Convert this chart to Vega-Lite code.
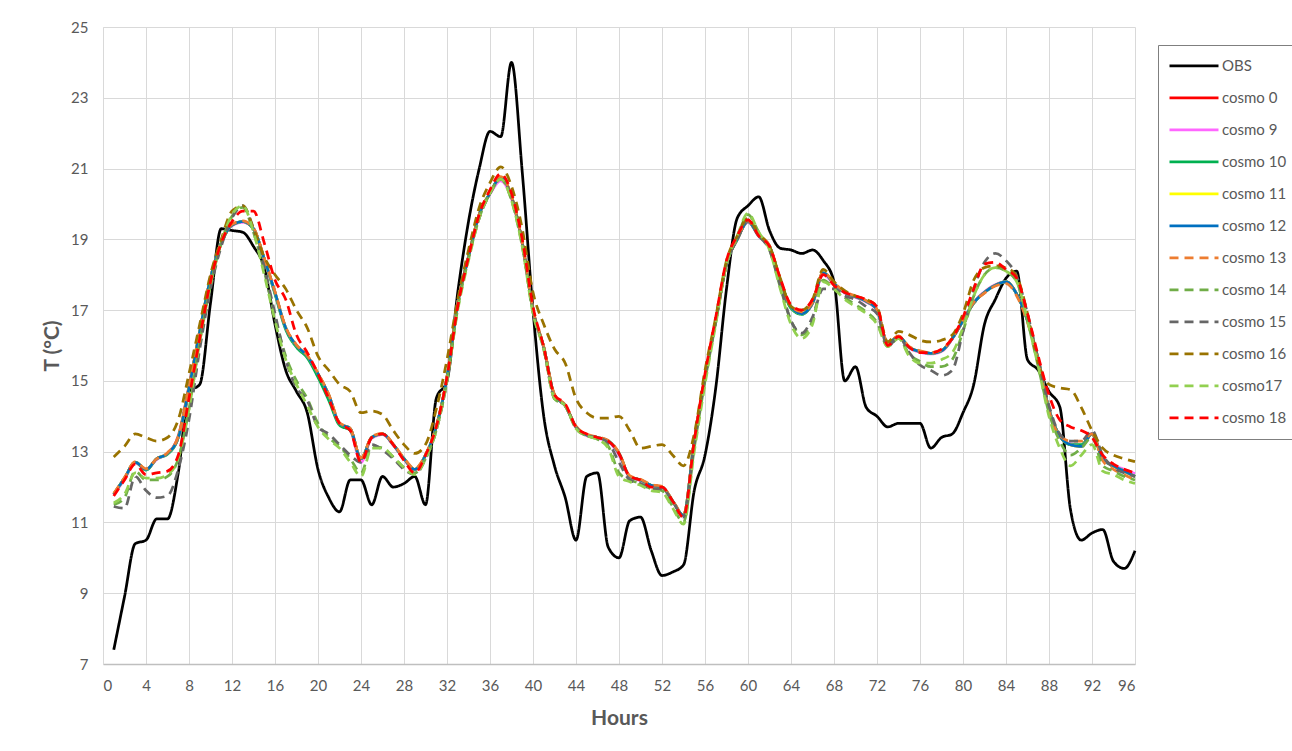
{
"$schema": "https://vega.github.io/schema/vega-lite/v6.json",
"width": 1032, "height": 637,
"autosize": {"type": "none"},
"padding": {"left": 103, "top": 27, "right": 157, "bottom": 87},
"background": "white",
"config": {"view": {"stroke": null}, "font": "Lato"},
"data": {"values": [
{"h":1,"OBS":7.4,"cosmo 0":11.8,"cosmo 9":11.78,"cosmo 10":11.8,"cosmo 11":11.8,"cosmo 12":11.8,"cosmo 13":11.82,"cosmo 14":11.5,"cosmo 15":11.45,"cosmo 16":12.85,"cosmo17":11.55,"cosmo 18":11.75},
{"h":2,"OBS":8.9,"cosmo 0":12.25,"cosmo 9":12.22,"cosmo 10":12.25,"cosmo 11":12.25,"cosmo 12":12.25,"cosmo 13":12.27,"cosmo 14":11.7,"cosmo 15":11.4,"cosmo 16":13.15,"cosmo17":11.8,"cosmo 18":12.2},
{"h":3,"OBS":10.4,"cosmo 0":12.7,"cosmo 9":12.68,"cosmo 10":12.7,"cosmo 11":12.7,"cosmo 12":12.7,"cosmo 13":12.72,"cosmo 14":12.45,"cosmo 15":12.3,"cosmo 16":13.5,"cosmo17":12.4,"cosmo 18":12.65},
{"h":4,"OBS":10.5,"cosmo 0":12.5,"cosmo 9":12.5,"cosmo 10":12.48,"cosmo 11":12.5,"cosmo 12":12.5,"cosmo 13":12.52,"cosmo 14":12.2,"cosmo 15":11.9,"cosmo 16":13.4,"cosmo17":12.25,"cosmo 18":12.35},
{"h":5,"OBS":11.1,"cosmo 0":12.8,"cosmo 9":12.78,"cosmo 10":12.8,"cosmo 11":12.8,"cosmo 12":12.8,"cosmo 13":12.8,"cosmo 14":12.2,"cosmo 15":11.7,"cosmo 16":13.3,"cosmo17":12.25,"cosmo 18":12.4},
{"h":6,"OBS":11.1,"cosmo 0":12.95,"cosmo 9":12.95,"cosmo 10":12.93,"cosmo 11":12.95,"cosmo 12":12.95,"cosmo 13":12.97,"cosmo 14":12.3,"cosmo 15":11.75,"cosmo 16":13.4,"cosmo17":12.35,"cosmo 18":12.45},
{"h":7,"OBS":12.4,"cosmo 0":13.45,"cosmo 9":13.4,"cosmo 10":13.4,"cosmo 11":13.4,"cosmo 12":13.4,"cosmo 13":13.42,"cosmo 14":12.8,"cosmo 15":12.5,"cosmo 16":13.9,"cosmo17":12.8,"cosmo 18":12.9},
{"h":8,"OBS":14.7,"cosmo 0":14.85,"cosmo 9":14.8,"cosmo 10":14.8,"cosmo 11":14.8,"cosmo 12":14.8,"cosmo 13":14.82,"cosmo 14":14.2,"cosmo 15":13.9,"cosmo 16":15.2,"cosmo17":14.2,"cosmo 18":14.5},
{"h":9,"OBS":14.9,"cosmo 0":16.4,"cosmo 9":16.4,"cosmo 10":16.38,"cosmo 11":16.4,"cosmo 12":16.4,"cosmo 13":16.42,"cosmo 14":16.1,"cosmo 15":15.9,"cosmo 16":16.6,"cosmo17":16.1,"cosmo 18":16.2},
{"h":10,"OBS":17.2,"cosmo 0":17.9,"cosmo 9":17.88,"cosmo 10":17.9,"cosmo 11":17.9,"cosmo 12":17.9,"cosmo 13":17.92,"cosmo 14":17.7,"cosmo 15":17.6,"cosmo 16":18.0,"cosmo17":17.7,"cosmo 18":17.8},
{"h":11,"OBS":19.3,"cosmo 0":18.9,"cosmo 9":18.9,"cosmo 10":18.88,"cosmo 11":18.9,"cosmo 12":18.9,"cosmo 13":18.92,"cosmo 14":18.9,"cosmo 15":18.8,"cosmo 16":19.0,"cosmo17":18.9,"cosmo 18":18.9},
{"h":12,"OBS":19.25,"cosmo 0":19.4,"cosmo 9":19.38,"cosmo 10":19.4,"cosmo 11":19.4,"cosmo 12":19.4,"cosmo 13":19.42,"cosmo 14":19.65,"cosmo 15":19.6,"cosmo 16":19.8,"cosmo17":19.7,"cosmo 18":19.5},
{"h":13,"OBS":19.2,"cosmo 0":19.5,"cosmo 9":19.48,"cosmo 10":19.5,"cosmo 11":19.5,"cosmo 12":19.5,"cosmo 13":19.52,"cosmo 14":19.9,"cosmo 15":19.95,"cosmo 16":19.95,"cosmo17":19.95,"cosmo 18":19.8},
{"h":14,"OBS":18.8,"cosmo 0":19.3,"cosmo 9":19.3,"cosmo 10":19.28,"cosmo 11":19.3,"cosmo 12":19.3,"cosmo 13":19.32,"cosmo 14":19.2,"cosmo 15":19.3,"cosmo 16":19.3,"cosmo17":19.2,"cosmo 18":19.8},
{"h":15,"OBS":18.2,"cosmo 0":18.45,"cosmo 9":18.42,"cosmo 10":18.45,"cosmo 11":18.45,"cosmo 12":18.45,"cosmo 13":18.47,"cosmo 14":18.1,"cosmo 15":18.2,"cosmo 16":18.5,"cosmo17":18.0,"cosmo 18":18.9},
{"h":16,"OBS":16.6,"cosmo 0":17.5,"cosmo 9":17.48,"cosmo 10":17.45,"cosmo 11":17.5,"cosmo 12":17.5,"cosmo 13":17.52,"cosmo 14":16.8,"cosmo 15":16.9,"cosmo 16":18.0,"cosmo17":16.7,"cosmo 18":17.85},
{"h":17,"OBS":15.3,"cosmo 0":16.5,"cosmo 9":16.48,"cosmo 10":16.45,"cosmo 11":16.5,"cosmo 12":16.5,"cosmo 13":16.52,"cosmo 14":15.7,"cosmo 15":15.6,"cosmo 16":17.6,"cosmo17":15.6,"cosmo 18":17.3},
{"h":18,"OBS":14.7,"cosmo 0":16.0,"cosmo 9":15.98,"cosmo 10":15.95,"cosmo 11":16.0,"cosmo 12":16.0,"cosmo 13":16.02,"cosmo 14":15.0,"cosmo 15":14.8,"cosmo 16":17.0,"cosmo17":14.9,"cosmo 18":16.3},
{"h":19,"OBS":14.1,"cosmo 0":15.7,"cosmo 9":15.68,"cosmo 10":15.65,"cosmo 11":15.7,"cosmo 12":15.7,"cosmo 13":15.72,"cosmo 14":14.5,"cosmo 15":14.45,"cosmo 16":16.5,"cosmo17":14.3,"cosmo 18":15.8},
{"h":20,"OBS":12.5,"cosmo 0":15.2,"cosmo 9":15.15,"cosmo 10":15.1,"cosmo 11":15.2,"cosmo 12":15.2,"cosmo 13":15.22,"cosmo 14":13.8,"cosmo 15":13.7,"cosmo 16":15.7,"cosmo17":13.7,"cosmo 18":15.2},
{"h":21,"OBS":11.7,"cosmo 0":14.6,"cosmo 9":14.55,"cosmo 10":14.45,"cosmo 11":14.6,"cosmo 12":14.6,"cosmo 13":14.62,"cosmo 14":13.4,"cosmo 15":13.5,"cosmo 16":15.3,"cosmo17":13.35,"cosmo 18":14.5},
{"h":22,"OBS":11.3,"cosmo 0":13.8,"cosmo 9":13.8,"cosmo 10":13.75,"cosmo 11":13.8,"cosmo 12":13.8,"cosmo 13":13.82,"cosmo 14":13.15,"cosmo 15":13.2,"cosmo 16":14.9,"cosmo17":13.1,"cosmo 18":13.8},
{"h":23,"OBS":12.2,"cosmo 0":13.65,"cosmo 9":13.6,"cosmo 10":13.6,"cosmo 11":13.65,"cosmo 12":13.65,"cosmo 13":13.65,"cosmo 14":12.8,"cosmo 15":12.9,"cosmo 16":14.7,"cosmo17":12.7,"cosmo 18":13.6},
{"h":24,"OBS":12.2,"cosmo 0":12.8,"cosmo 9":12.7,"cosmo 10":12.8,"cosmo 11":12.8,"cosmo 12":12.8,"cosmo 13":12.82,"cosmo 14":12.4,"cosmo 15":12.7,"cosmo 16":14.1,"cosmo17":12.3,"cosmo 18":12.7},
{"h":25,"OBS":11.5,"cosmo 0":13.4,"cosmo 9":13.38,"cosmo 10":13.4,"cosmo 11":13.4,"cosmo 12":13.4,"cosmo 13":13.42,"cosmo 14":13.15,"cosmo 15":13.2,"cosmo 16":14.15,"cosmo17":13.1,"cosmo 18":13.4},
{"h":26,"OBS":12.3,"cosmo 0":13.5,"cosmo 9":13.48,"cosmo 10":13.5,"cosmo 11":13.5,"cosmo 12":13.5,"cosmo 13":13.52,"cosmo 14":13.1,"cosmo 15":13.05,"cosmo 16":14.05,"cosmo17":13.1,"cosmo 18":13.5},
{"h":27,"OBS":12.0,"cosmo 0":13.2,"cosmo 9":13.18,"cosmo 10":13.2,"cosmo 11":13.2,"cosmo 12":13.2,"cosmo 13":13.22,"cosmo 14":12.85,"cosmo 15":12.8,"cosmo 16":13.6,"cosmo17":12.85,"cosmo 18":13.2},
{"h":28,"OBS":12.1,"cosmo 0":12.8,"cosmo 9":12.78,"cosmo 10":12.8,"cosmo 11":12.8,"cosmo 12":12.8,"cosmo 13":12.82,"cosmo 14":12.55,"cosmo 15":12.5,"cosmo 16":13.2,"cosmo17":12.55,"cosmo 18":12.75},
{"h":29,"OBS":12.3,"cosmo 0":12.5,"cosmo 9":12.48,"cosmo 10":12.5,"cosmo 11":12.5,"cosmo 12":12.5,"cosmo 13":12.52,"cosmo 14":12.4,"cosmo 15":12.35,"cosmo 16":12.95,"cosmo17":12.35,"cosmo 18":12.4},
{"h":30,"OBS":11.5,"cosmo 0":12.9,"cosmo 9":12.88,"cosmo 10":12.9,"cosmo 11":12.9,"cosmo 12":12.9,"cosmo 13":12.92,"cosmo 14":12.8,"cosmo 15":12.8,"cosmo 16":13.2,"cosmo17":12.8,"cosmo 18":12.9},
{"h":31,"OBS":14.5,"cosmo 0":13.7,"cosmo 9":13.7,"cosmo 10":13.7,"cosmo 11":13.7,"cosmo 12":13.7,"cosmo 13":13.72,"cosmo 14":13.6,"cosmo 15":13.6,"cosmo 16":14.2,"cosmo17":13.6,"cosmo 18":13.7},
{"h":32,"OBS":15.0,"cosmo 0":15.1,"cosmo 9":15.1,"cosmo 10":15.1,"cosmo 11":15.1,"cosmo 12":15.1,"cosmo 13":15.12,"cosmo 14":15.0,"cosmo 15":15.0,"cosmo 16":15.6,"cosmo17":15.0,"cosmo 18":15.1},
{"h":33,"OBS":17.5,"cosmo 0":17.2,"cosmo 9":17.18,"cosmo 10":17.2,"cosmo 11":17.2,"cosmo 12":17.2,"cosmo 13":17.2,"cosmo 14":17.05,"cosmo 15":17.1,"cosmo 16":17.3,"cosmo17":17.0,"cosmo 18":17.1},
{"h":34,"OBS":19.5,"cosmo 0":18.5,"cosmo 9":18.48,"cosmo 10":18.5,"cosmo 11":18.5,"cosmo 12":18.5,"cosmo 13":18.5,"cosmo 14":18.45,"cosmo 15":18.5,"cosmo 16":18.7,"cosmo17":18.4,"cosmo 18":18.5},
{"h":35,"OBS":21.0,"cosmo 0":19.7,"cosmo 9":19.68,"cosmo 10":19.7,"cosmo 11":19.7,"cosmo 12":19.7,"cosmo 13":19.7,"cosmo 14":19.6,"cosmo 15":19.6,"cosmo 16":19.9,"cosmo17":19.6,"cosmo 18":19.7},
{"h":36,"OBS":22.05,"cosmo 0":20.3,"cosmo 9":20.28,"cosmo 10":20.3,"cosmo 11":20.3,"cosmo 12":20.3,"cosmo 13":20.32,"cosmo 14":20.3,"cosmo 15":20.3,"cosmo 16":20.6,"cosmo17":20.3,"cosmo 18":20.4},
{"h":37,"OBS":21.9,"cosmo 0":20.75,"cosmo 9":20.65,"cosmo 10":20.75,"cosmo 11":20.75,"cosmo 12":20.75,"cosmo 13":20.77,"cosmo 14":20.7,"cosmo 15":20.7,"cosmo 16":21.05,"cosmo17":20.7,"cosmo 18":20.85},
{"h":38,"OBS":24.0,"cosmo 0":20.2,"cosmo 9":20.15,"cosmo 10":20.2,"cosmo 11":20.2,"cosmo 12":20.2,"cosmo 13":20.22,"cosmo 14":20.1,"cosmo 15":20.2,"cosmo 16":20.5,"cosmo17":20.1,"cosmo 18":20.3},
{"h":39,"OBS":20.9,"cosmo 0":18.9,"cosmo 9":18.88,"cosmo 10":18.9,"cosmo 11":18.9,"cosmo 12":18.9,"cosmo 13":18.92,"cosmo 14":18.8,"cosmo 15":18.9,"cosmo 16":19.3,"cosmo17":18.8,"cosmo 18":19.0},
{"h":40,"OBS":17.0,"cosmo 0":17.0,"cosmo 9":17.0,"cosmo 10":17.0,"cosmo 11":17.0,"cosmo 12":17.0,"cosmo 13":17.02,"cosmo 14":16.95,"cosmo 15":17.0,"cosmo 16":17.5,"cosmo17":16.9,"cosmo 18":17.1},
{"h":41,"OBS":14.0,"cosmo 0":15.95,"cosmo 9":15.93,"cosmo 10":15.95,"cosmo 11":15.95,"cosmo 12":15.95,"cosmo 13":15.97,"cosmo 14":15.9,"cosmo 15":15.9,"cosmo 16":16.6,"cosmo17":15.9,"cosmo 18":15.95},
{"h":42,"OBS":12.6,"cosmo 0":14.6,"cosmo 9":14.58,"cosmo 10":14.6,"cosmo 11":14.6,"cosmo 12":14.6,"cosmo 13":14.62,"cosmo 14":14.5,"cosmo 15":14.5,"cosmo 16":15.9,"cosmo17":14.5,"cosmo 18":14.6},
{"h":43,"OBS":11.7,"cosmo 0":14.3,"cosmo 9":14.3,"cosmo 10":14.3,"cosmo 11":14.3,"cosmo 12":14.3,"cosmo 13":14.32,"cosmo 14":14.3,"cosmo 15":14.3,"cosmo 16":15.5,"cosmo17":14.3,"cosmo 18":14.35},
{"h":44,"OBS":10.5,"cosmo 0":13.7,"cosmo 9":13.68,"cosmo 10":13.7,"cosmo 11":13.7,"cosmo 12":13.7,"cosmo 13":13.72,"cosmo 14":13.65,"cosmo 15":13.7,"cosmo 16":14.5,"cosmo17":13.65,"cosmo 18":13.7},
{"h":45,"OBS":12.3,"cosmo 0":13.47,"cosmo 9":13.45,"cosmo 10":13.47,"cosmo 11":13.47,"cosmo 12":13.47,"cosmo 13":13.49,"cosmo 14":13.45,"cosmo 15":13.45,"cosmo 16":14.1,"cosmo17":13.45,"cosmo 18":13.5},
{"h":46,"OBS":12.4,"cosmo 0":13.4,"cosmo 9":13.38,"cosmo 10":13.4,"cosmo 11":13.4,"cosmo 12":13.4,"cosmo 13":13.42,"cosmo 14":13.35,"cosmo 15":13.4,"cosmo 16":13.95,"cosmo17":13.35,"cosmo 18":13.4},
{"h":47,"OBS":10.3,"cosmo 0":13.3,"cosmo 9":13.28,"cosmo 10":13.3,"cosmo 11":13.3,"cosmo 12":13.3,"cosmo 13":13.32,"cosmo 14":13.15,"cosmo 15":13.25,"cosmo 16":13.95,"cosmo17":13.1,"cosmo 18":13.3},
{"h":48,"OBS":10.0,"cosmo 0":12.95,"cosmo 9":12.9,"cosmo 10":12.95,"cosmo 11":12.95,"cosmo 12":12.95,"cosmo 13":12.97,"cosmo 14":12.4,"cosmo 15":12.7,"cosmo 16":14.0,"cosmo17":12.3,"cosmo 18":12.95},
{"h":49,"OBS":11.05,"cosmo 0":12.3,"cosmo 9":12.28,"cosmo 10":12.3,"cosmo 11":12.3,"cosmo 12":12.3,"cosmo 13":12.32,"cosmo 14":12.2,"cosmo 15":12.2,"cosmo 16":13.6,"cosmo17":12.15,"cosmo 18":12.3},
{"h":50,"OBS":11.15,"cosmo 0":12.2,"cosmo 9":12.18,"cosmo 10":12.2,"cosmo 11":12.2,"cosmo 12":12.2,"cosmo 13":12.22,"cosmo 14":12.1,"cosmo 15":12.1,"cosmo 16":13.1,"cosmo17":12.05,"cosmo 18":12.2},
{"h":51,"OBS":10.2,"cosmo 0":12.05,"cosmo 9":12.03,"cosmo 10":12.05,"cosmo 11":12.05,"cosmo 12":12.05,"cosmo 13":12.07,"cosmo 14":11.95,"cosmo 15":11.95,"cosmo 16":13.15,"cosmo17":11.9,"cosmo 18":12.0},
{"h":52,"OBS":9.5,"cosmo 0":12.0,"cosmo 9":11.98,"cosmo 10":12.0,"cosmo 11":12.0,"cosmo 12":12.0,"cosmo 13":12.02,"cosmo 14":11.9,"cosmo 15":11.95,"cosmo 16":13.2,"cosmo17":11.85,"cosmo 18":12.0},
{"h":53,"OBS":9.6,"cosmo 0":11.6,"cosmo 9":11.58,"cosmo 10":11.6,"cosmo 11":11.6,"cosmo 12":11.6,"cosmo 13":11.62,"cosmo 14":11.45,"cosmo 15":11.6,"cosmo 16":12.9,"cosmo17":11.4,"cosmo 18":11.6},
{"h":54,"OBS":9.8,"cosmo 0":11.2,"cosmo 9":11.18,"cosmo 10":11.2,"cosmo 11":11.2,"cosmo 12":11.2,"cosmo 13":11.22,"cosmo 14":11.0,"cosmo 15":11.15,"cosmo 16":12.6,"cosmo17":10.95,"cosmo 18":11.15},
{"h":55,"OBS":11.9,"cosmo 0":13.3,"cosmo 9":13.28,"cosmo 10":13.3,"cosmo 11":13.3,"cosmo 12":13.3,"cosmo 13":13.32,"cosmo 14":13.1,"cosmo 15":13.2,"cosmo 16":13.5,"cosmo17":13.0,"cosmo 18":13.3},
{"h":56,"OBS":12.9,"cosmo 0":15.1,"cosmo 9":15.08,"cosmo 10":15.1,"cosmo 11":15.1,"cosmo 12":15.1,"cosmo 13":15.12,"cosmo 14":15.0,"cosmo 15":15.1,"cosmo 16":15.3,"cosmo17":14.9,"cosmo 18":15.2},
{"h":57,"OBS":14.8,"cosmo 0":16.7,"cosmo 9":16.68,"cosmo 10":16.7,"cosmo 11":16.7,"cosmo 12":16.7,"cosmo 13":16.72,"cosmo 14":16.65,"cosmo 15":16.7,"cosmo 16":16.8,"cosmo17":16.6,"cosmo 18":16.8},
{"h":58,"OBS":17.6,"cosmo 0":18.3,"cosmo 9":18.28,"cosmo 10":18.3,"cosmo 11":18.3,"cosmo 12":18.3,"cosmo 13":18.32,"cosmo 14":18.3,"cosmo 15":18.3,"cosmo 16":18.4,"cosmo17":18.3,"cosmo 18":18.4},
{"h":59,"OBS":19.6,"cosmo 0":19.0,"cosmo 9":19.0,"cosmo 10":19.0,"cosmo 11":19.0,"cosmo 12":19.0,"cosmo 13":19.02,"cosmo 14":19.05,"cosmo 15":19.0,"cosmo 16":19.1,"cosmo17":19.1,"cosmo 18":19.1},
{"h":60,"OBS":19.95,"cosmo 0":19.5,"cosmo 9":19.48,"cosmo 10":19.5,"cosmo 11":19.5,"cosmo 12":19.5,"cosmo 13":19.52,"cosmo 14":19.7,"cosmo 15":19.55,"cosmo 16":19.6,"cosmo17":19.74,"cosmo 18":19.55},
{"h":61,"OBS":20.2,"cosmo 0":19.1,"cosmo 9":19.08,"cosmo 10":19.1,"cosmo 11":19.1,"cosmo 12":19.1,"cosmo 13":19.12,"cosmo 14":19.2,"cosmo 15":19.1,"cosmo 16":19.15,"cosmo17":19.2,"cosmo 18":19.1},
{"h":62,"OBS":19.25,"cosmo 0":18.8,"cosmo 9":18.78,"cosmo 10":18.8,"cosmo 11":18.8,"cosmo 12":18.8,"cosmo 13":18.82,"cosmo 14":18.7,"cosmo 15":18.7,"cosmo 16":18.8,"cosmo17":18.7,"cosmo 18":18.8},
{"h":63,"OBS":18.75,"cosmo 0":17.85,"cosmo 9":17.83,"cosmo 10":17.85,"cosmo 11":17.85,"cosmo 12":17.85,"cosmo 13":17.87,"cosmo 14":17.65,"cosmo 15":17.7,"cosmo 16":17.9,"cosmo17":17.6,"cosmo 18":17.9},
{"h":64,"OBS":18.7,"cosmo 0":17.1,"cosmo 9":17.08,"cosmo 10":17.05,"cosmo 11":17.1,"cosmo 12":17.1,"cosmo 13":17.12,"cosmo 14":16.7,"cosmo 15":16.7,"cosmo 16":17.1,"cosmo17":16.6,"cosmo 18":17.15},
{"h":65,"OBS":18.6,"cosmo 0":16.9,"cosmo 9":16.9,"cosmo 10":16.88,"cosmo 11":16.9,"cosmo 12":16.9,"cosmo 13":16.95,"cosmo 14":16.3,"cosmo 15":16.35,"cosmo 16":17.0,"cosmo17":16.2,"cosmo 18":17.0},
{"h":66,"OBS":18.7,"cosmo 0":17.2,"cosmo 9":17.18,"cosmo 10":17.2,"cosmo 11":17.2,"cosmo 12":17.2,"cosmo 13":17.22,"cosmo 14":16.7,"cosmo 15":16.8,"cosmo 16":17.3,"cosmo17":16.6,"cosmo 18":17.3},
{"h":67,"OBS":18.4,"cosmo 0":18.05,"cosmo 9":18.0,"cosmo 10":18.05,"cosmo 11":18.05,"cosmo 12":18.05,"cosmo 13":18.07,"cosmo 14":17.85,"cosmo 15":17.6,"cosmo 16":18.15,"cosmo17":17.8,"cosmo 18":18.0},
{"h":68,"OBS":17.8,"cosmo 0":17.75,"cosmo 9":17.73,"cosmo 10":17.75,"cosmo 11":17.75,"cosmo 12":17.75,"cosmo 13":17.77,"cosmo 14":17.6,"cosmo 15":17.6,"cosmo 16":17.8,"cosmo17":17.6,"cosmo 18":17.7},
{"h":69,"OBS":15.0,"cosmo 0":17.5,"cosmo 9":17.48,"cosmo 10":17.5,"cosmo 11":17.5,"cosmo 12":17.5,"cosmo 13":17.52,"cosmo 14":17.35,"cosmo 15":17.4,"cosmo 16":17.55,"cosmo17":17.3,"cosmo 18":17.5},
{"h":70,"OBS":15.4,"cosmo 0":17.38,"cosmo 9":17.36,"cosmo 10":17.38,"cosmo 11":17.38,"cosmo 12":17.38,"cosmo 13":17.4,"cosmo 14":17.15,"cosmo 15":17.3,"cosmo 16":17.4,"cosmo17":17.1,"cosmo 18":17.4},
{"h":71,"OBS":14.25,"cosmo 0":17.25,"cosmo 9":17.23,"cosmo 10":17.25,"cosmo 11":17.25,"cosmo 12":17.25,"cosmo 13":17.27,"cosmo 14":16.95,"cosmo 15":17.1,"cosmo 16":17.3,"cosmo17":16.9,"cosmo 18":17.3},
{"h":72,"OBS":14.0,"cosmo 0":17.0,"cosmo 9":16.98,"cosmo 10":17.0,"cosmo 11":17.0,"cosmo 12":17.0,"cosmo 13":17.02,"cosmo 14":16.65,"cosmo 15":16.9,"cosmo 16":17.1,"cosmo17":16.6,"cosmo 18":17.1},
{"h":73,"OBS":13.7,"cosmo 0":16.06,"cosmo 9":16.04,"cosmo 10":16.06,"cosmo 11":16.06,"cosmo 12":16.06,"cosmo 13":16.08,"cosmo 14":15.97,"cosmo 15":15.97,"cosmo 16":16.1,"cosmo17":15.97,"cosmo 18":16.0},
{"h":74,"OBS":13.8,"cosmo 0":16.25,"cosmo 9":16.23,"cosmo 10":16.25,"cosmo 11":16.25,"cosmo 12":16.25,"cosmo 13":16.27,"cosmo 14":16.2,"cosmo 15":16.25,"cosmo 16":16.4,"cosmo17":16.2,"cosmo 18":16.25},
{"h":75,"OBS":13.8,"cosmo 0":15.95,"cosmo 9":15.93,"cosmo 10":15.95,"cosmo 11":15.95,"cosmo 12":15.95,"cosmo 13":15.97,"cosmo 14":15.75,"cosmo 15":15.8,"cosmo 16":16.3,"cosmo17":15.7,"cosmo 18":15.95},
{"h":76,"OBS":13.8,"cosmo 0":15.83,"cosmo 9":15.81,"cosmo 10":15.83,"cosmo 11":15.83,"cosmo 12":15.83,"cosmo 13":15.85,"cosmo 14":15.55,"cosmo 15":15.45,"cosmo 16":16.15,"cosmo17":15.5,"cosmo 18":15.8},
{"h":77,"OBS":13.1,"cosmo 0":15.78,"cosmo 9":15.76,"cosmo 10":15.78,"cosmo 11":15.78,"cosmo 12":15.78,"cosmo 13":15.8,"cosmo 14":15.4,"cosmo 15":15.3,"cosmo 16":16.1,"cosmo17":15.5,"cosmo 18":15.8},
{"h":78,"OBS":13.4,"cosmo 0":15.85,"cosmo 9":15.83,"cosmo 10":15.85,"cosmo 11":15.85,"cosmo 12":15.85,"cosmo 13":15.87,"cosmo 14":15.4,"cosmo 15":15.15,"cosmo 16":16.15,"cosmo17":15.6,"cosmo 18":15.9},
{"h":79,"OBS":13.5,"cosmo 0":16.2,"cosmo 9":16.18,"cosmo 10":16.2,"cosmo 11":16.2,"cosmo 12":16.2,"cosmo 13":16.22,"cosmo 14":15.6,"cosmo 15":15.3,"cosmo 16":16.3,"cosmo17":15.8,"cosmo 18":16.2},
{"h":80,"OBS":14.1,"cosmo 0":16.7,"cosmo 9":16.7,"cosmo 10":16.7,"cosmo 11":16.7,"cosmo 12":16.7,"cosmo 13":16.72,"cosmo 14":16.4,"cosmo 15":16.4,"cosmo 16":16.9,"cosmo17":16.5,"cosmo 18":16.8},
{"h":81,"OBS":14.9,"cosmo 0":17.2,"cosmo 9":17.22,"cosmo 10":17.2,"cosmo 11":17.2,"cosmo 12":17.2,"cosmo 13":17.22,"cosmo 14":17.4,"cosmo 15":17.6,"cosmo 16":17.85,"cosmo17":17.4,"cosmo 18":17.6},
{"h":82,"OBS":16.6,"cosmo 0":17.5,"cosmo 9":17.52,"cosmo 10":17.5,"cosmo 11":17.5,"cosmo 12":17.5,"cosmo 13":17.48,"cosmo 14":18.0,"cosmo 15":18.35,"cosmo 16":18.2,"cosmo17":18.0,"cosmo 18":18.3},
{"h":83,"OBS":17.3,"cosmo 0":17.7,"cosmo 9":17.72,"cosmo 10":17.7,"cosmo 11":17.7,"cosmo 12":17.7,"cosmo 13":17.68,"cosmo 14":18.2,"cosmo 15":18.6,"cosmo 16":18.25,"cosmo17":18.2,"cosmo 18":18.35},
{"h":84,"OBS":17.9,"cosmo 0":17.8,"cosmo 9":17.8,"cosmo 10":17.8,"cosmo 11":17.8,"cosmo 12":17.8,"cosmo 13":17.75,"cosmo 14":18.1,"cosmo 15":18.4,"cosmo 16":18.2,"cosmo17":18.1,"cosmo 18":18.15},
{"h":85,"OBS":18.1,"cosmo 0":17.45,"cosmo 9":17.45,"cosmo 10":17.45,"cosmo 11":17.45,"cosmo 12":17.45,"cosmo 13":17.4,"cosmo 14":17.8,"cosmo 15":17.95,"cosmo 16":17.95,"cosmo17":17.8,"cosmo 18":17.9},
{"h":86,"OBS":15.6,"cosmo 0":16.7,"cosmo 9":16.7,"cosmo 10":16.7,"cosmo 11":16.7,"cosmo 12":16.7,"cosmo 13":16.65,"cosmo 14":16.7,"cosmo 15":16.9,"cosmo 16":16.9,"cosmo17":16.7,"cosmo 18":16.9},
{"h":87,"OBS":15.3,"cosmo 0":15.6,"cosmo 9":15.6,"cosmo 10":15.6,"cosmo 11":15.6,"cosmo 12":15.6,"cosmo 13":15.55,"cosmo 14":15.4,"cosmo 15":15.6,"cosmo 16":15.5,"cosmo17":15.4,"cosmo 18":15.7},
{"h":88,"OBS":14.7,"cosmo 0":14.2,"cosmo 9":14.2,"cosmo 10":14.2,"cosmo 11":14.2,"cosmo 12":14.2,"cosmo 13":14.15,"cosmo 14":14.1,"cosmo 15":14.3,"cosmo 16":14.9,"cosmo17":14.0,"cosmo 18":14.6},
{"h":89,"OBS":14.27,"cosmo 0":13.45,"cosmo 9":13.45,"cosmo 10":13.45,"cosmo 11":13.45,"cosmo 12":13.45,"cosmo 13":13.45,"cosmo 14":13.3,"cosmo 15":13.5,"cosmo 16":14.8,"cosmo17":13.1,"cosmo 18":13.9},
{"h":90,"OBS":11.36,"cosmo 0":13.2,"cosmo 9":13.22,"cosmo 10":13.2,"cosmo 11":13.2,"cosmo 12":13.2,"cosmo 13":13.3,"cosmo 14":12.9,"cosmo 15":13.3,"cosmo 16":14.75,"cosmo17":12.6,"cosmo 18":13.7},
{"h":91,"OBS":10.5,"cosmo 0":13.15,"cosmo 9":13.18,"cosmo 10":13.2,"cosmo 11":13.15,"cosmo 12":13.15,"cosmo 13":13.3,"cosmo 14":13.1,"cosmo 15":13.3,"cosmo 16":14.25,"cosmo17":12.9,"cosmo 18":13.6},
{"h":92,"OBS":10.7,"cosmo 0":13.5,"cosmo 9":13.52,"cosmo 10":13.5,"cosmo 11":13.5,"cosmo 12":13.5,"cosmo 13":13.5,"cosmo 14":13.4,"cosmo 15":13.6,"cosmo 16":13.6,"cosmo17":13.2,"cosmo 18":13.4},
{"h":93,"OBS":10.8,"cosmo 0":12.8,"cosmo 9":12.82,"cosmo 10":12.8,"cosmo 11":12.8,"cosmo 12":12.8,"cosmo 13":12.75,"cosmo 14":12.6,"cosmo 15":12.9,"cosmo 16":13.1,"cosmo17":12.45,"cosmo 18":12.9},
{"h":94,"OBS":9.9,"cosmo 0":12.6,"cosmo 9":12.62,"cosmo 10":12.6,"cosmo 11":12.6,"cosmo 12":12.6,"cosmo 13":12.5,"cosmo 14":12.45,"cosmo 15":12.55,"cosmo 16":12.9,"cosmo17":12.35,"cosmo 18":12.65},
{"h":95,"OBS":9.7,"cosmo 0":12.45,"cosmo 9":12.5,"cosmo 10":12.45,"cosmo 11":12.45,"cosmo 12":12.45,"cosmo 13":12.35,"cosmo 14":12.3,"cosmo 15":12.4,"cosmo 16":12.8,"cosmo17":12.2,"cosmo 18":12.5},
{"h":96,"OBS":10.2,"cosmo 0":12.3,"cosmo 9":12.38,"cosmo 10":12.3,"cosmo 11":12.3,"cosmo 12":12.3,"cosmo 13":12.2,"cosmo 14":12.2,"cosmo 15":12.3,"cosmo 16":12.72,"cosmo17":12.1,"cosmo 18":12.4}
]},
"transform": [{"fold": ["OBS","cosmo 0","cosmo 9","cosmo 10","cosmo 11","cosmo 12","cosmo 13","cosmo 14","cosmo 15","cosmo 16","cosmo17","cosmo 18"], "as": ["series","T"]}],
"mark": {"type": "line", "interpolate": "monotone", "strokeWidth": 2.75, "strokeCap": "butt"},
"encoding": {
  "x": {"field": "h", "type": "quantitative", "scale": {"domain": [0, 96], "nice": false},
    "axis": {"values": [0,4,8,12,16,20,24,28,32,36,40,44,48,52,56,60,64,68,72,76,80,84,88,92,96], "title": "Hours", "grid": true, "gridColor": "#D9D9D9", "domainColor": "#BFBFBF", "domainWidth": 1.5, "ticks": false, "labelPadding": 14, "labelFontSize": 15, "labelColor": "#595959", "labelFont": "Lato", "titleFont": "Lato", "titleFontSize": 21, "titleFontWeight": "bold", "titleColor": "#595959", "titlePadding": 14}},
  "y": {"field": "T", "type": "quantitative", "scale": {"domain": [7, 25], "nice": false, "zero": false},
    "axis": {"values": [7,9,11,13,15,17,19,21,23,25], "title": "T (°C)", "grid": true, "gridColor": "#D9D9D9", "domainColor": "#D9D9D9", "ticks": false, "labelPadding": 15, "labelFontSize": 15, "labelColor": "#595959", "labelFont": "Lato", "titleFont": "Lato", "titleFontSize": 21, "titleFontWeight": "bold", "titleColor": "#595959", "titlePadding": 8}},
  "color": {"field": "series", "type": "nominal",
    "scale": {"domain": ["OBS","cosmo 0","cosmo 9","cosmo 10","cosmo 11","cosmo 12","cosmo 13","cosmo 14","cosmo 15","cosmo 16","cosmo17","cosmo 18"],
              "range": ["#000000","#FF0000","#FF66FF","#00B050","#FFFF00","#0070C0","#ED7D31","#70AD47","#666666","#997300","#92D050","#FF0000"]},
    "legend": {"orient": "none", "legendX": 1055, "legendY": 18, "title": null, "symbolType": "stroke", "symbolSize": 2400, "symbolStrokeWidth": 2.75, "symbolOffset": 5, "clipHeight": 31.8, "labelFontSize": 15, "labelFont": "Lato", "labelColor": "#595959", "strokeColor": "#7F7F7F", "fillColor": "white", "padding": 5, "rowPadding": 0, "labelOffset": 2}},
  "strokeDash": {"field": "series", "type": "nominal",
    "scale": {"domain": ["OBS","cosmo 0","cosmo 9","cosmo 10","cosmo 11","cosmo 12","cosmo 13","cosmo 14","cosmo 15","cosmo 16","cosmo17","cosmo 18"],
              "range": [[1,0],[1,0],[1,0],[1,0],[1,0],[1,0],[9,6],[9,6],[9,6],[9,6],[9,6],[9,6]]}}
}
}
